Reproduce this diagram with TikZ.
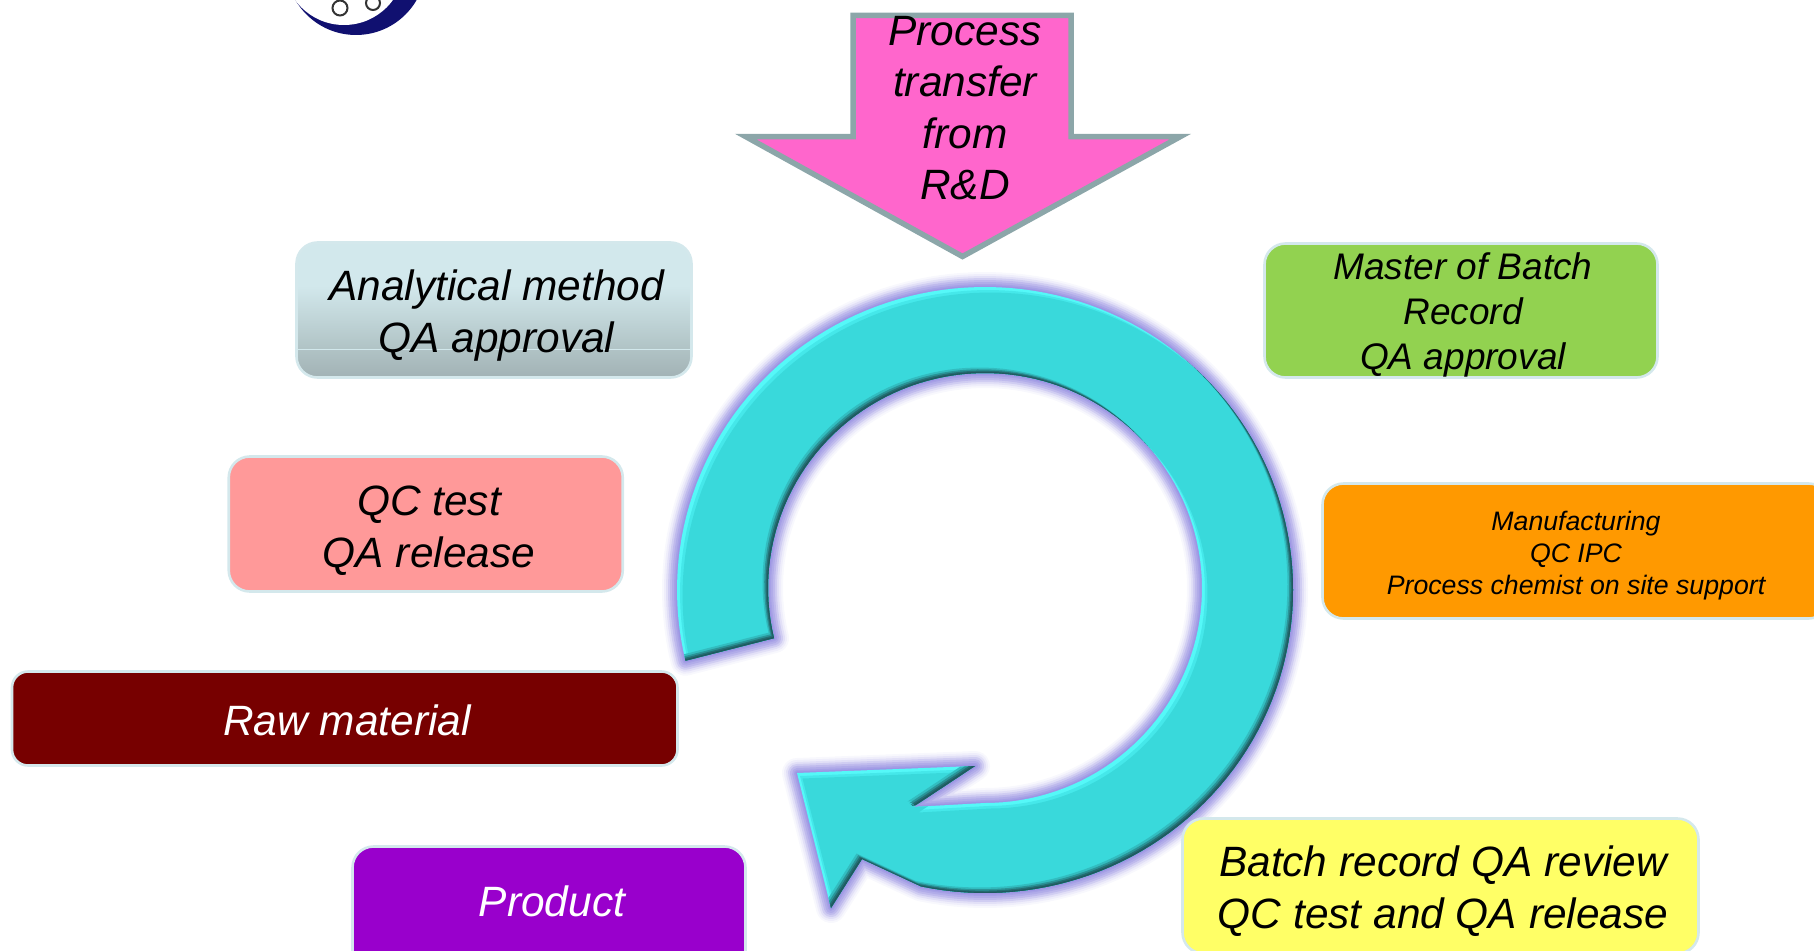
\documentclass[tikz,border=0pt]{standalone}
\usepackage{fontspec}
\setmainfont{Liberation Sans}
\definecolor{rimc}{HTML}{D4E8EC}
\definecolor{arrowrim}{HTML}{8CA6A9}
\definecolor{pinkc}{HTML}{FF66CC}
\definecolor{ringc}{HTML}{39D9DB}
\definecolor{ringl}{HTML}{55F8F8}
\definecolor{ringm}{HTML}{45E8EA}
\definecolor{glowc}{HTML}{9088E0}
\definecolor{navyc}{HTML}{101070}
\definecolor{gtop}{HTML}{D2E8EC}
\definecolor{gmid}{HTML}{B0C3C5}
\definecolor{gbot}{HTML}{A2B2B5}
\definecolor{greenc}{HTML}{92D250}
\definecolor{salmonc}{HTML}{FF9999}
\definecolor{maroonc}{HTML}{770000}
\definecolor{purplec}{HTML}{9900CC}
\definecolor{orangec}{HTML}{FF9900}
\definecolor{yellowc}{HTML}{FFFF66}
\pgfdeclareverticalshading{boxgrad}{100bp}{color(0bp)=(gbot); color(25bp)=(gbot); color(35.5bp)=(gmid); color(59bp)=(gtop); color(75bp)=(gtop); color(100bp)=(gtop)}
\def\ringpath{plot[domain=166.5:462,samples=140]({985+308*cos(\x)},{590+303*sin(\x)}) -- (862,859) -- (831,908) -- (797,773) -- (975,766) -- (913,807) -- plot[domain=450:166.5,samples=120]({985+217*cos(\x)},{588+215*sin(\x)}) -- cycle}
\tikzset{
  panel/.style={draw=rimc,line width=2.6pt,rounded corners=21pt,inner sep=0pt,outer sep=0pt},
  big/.style={font=\fontsize{42.4}{51.5}\selectfont\itshape,align=center,inner sep=0pt},
  mid/.style={font=\fontsize{37}{45}\selectfont\itshape,align=center,inner sep=0pt},
  small/.style={font=\fontsize{26.7}{32}\selectfont\itshape,align=center,inner sep=0pt},
}
\begin{document}
\begin{tikzpicture}[x=1pt,y=-1pt]
\useasboundingbox (0,0) rectangle (1814,950);
\clip (0,0) rectangle (1814,950);
% logo fragment
\fill[navyc] (356,-35) circle (70);
\fill[white] (344,-35.5) circle (60.5);
\draw[black!80,line width=2pt] (340,8) circle (7.5) (373,3) circle (7);
% ring glow
\foreach \w/\p in {30/6,26/14,22/26,18/42,14/58,10/70,6/80,3/88}
  \draw[glowc!\p!white,line width=\w pt,line join=round] \ringpath;
% ring body with bevel
\begin{scope}
  \clip \ringpath;
  \fill[ringl] (600,250) rectangle (1350,950);
  \fill[ringm,shift={(3,3)}] \ringpath;
  \fill[ringc,shift={(5.5,5.5)}] \ringpath;
  \foreach \k/\c in {5.5/32BDC0,3.8/2A9498,2.4/246F74,1.2/1F5A60}{
    \definecolor{tmpc}{HTML}{\c}
    \fill[tmpc,even odd rule,shift={(-\k,-\k)}] \ringpath (590,240) rectangle (1370,960);
  }
\end{scope}
% process transfer arrow
\draw[arrowrim,fill=pinkc,line width=5.5pt,miter limit=20]
  (853,15.5) -- (1071,15.5) -- (1071,136.5) -- (1180.5,136.5) -- (962.5,256.5) -- (745.5,136.5) -- (853,136.5) -- cycle;
\node[big] (tP) at (965,108) {Process\\transfer\\from\\R\&D};
% boxes
\node[panel,shading=boxgrad,minimum width=395pt,minimum height=135pt] (bA) at (494,310) {};
\draw[gtop,line width=1pt] (bA.west |- 0,349) -- (bA.east |- 0,349);
\node[big] (tA) at (496.5,315.5) {Analytical method\\QA approval};
\node[panel,fill=greenc,minimum width=393pt,minimum height=134pt] (bM) at (1461,310.5) {};
\node[mid] (tM) at (1463,314.5) {Master of Batch\\Record\\QA approval};
\node[panel,fill=salmonc,minimum width=394pt,minimum height=135pt] (bQ) at (425.75,524) {};
\node[big] (tQ) at (429,530.5) {QC test\\QA release};
\node[panel,fill=maroonc,rounded corners=16pt,minimum width=665.5pt,minimum height=94pt] (bR) at (344.75,718.5) {};
\node[big,text=white] (tR) at (347,720) {Raw material};
\node[panel,fill=purplec,minimum width=393pt,minimum height=135pt] (bP) at (549,914) {};
\node[big,text=white] (tPr) at (552,901) {Product};
\node[panel,fill=orangec,minimum width=507pt,minimum height=135pt] (bO) at (1576,551) {};
\node[small] (tO) at (1576,555.5) {Manufacturing\\QC IPC\\Process chemist on site support};
\node[panel,fill=yellowc,minimum width=516pt,minimum height=135pt] (bY) at (1440.5,886) {};
\node[big] (tY) at (1443,891) {Batch record QA review\\QC test and QA release};
\end{tikzpicture}
\end{document}
